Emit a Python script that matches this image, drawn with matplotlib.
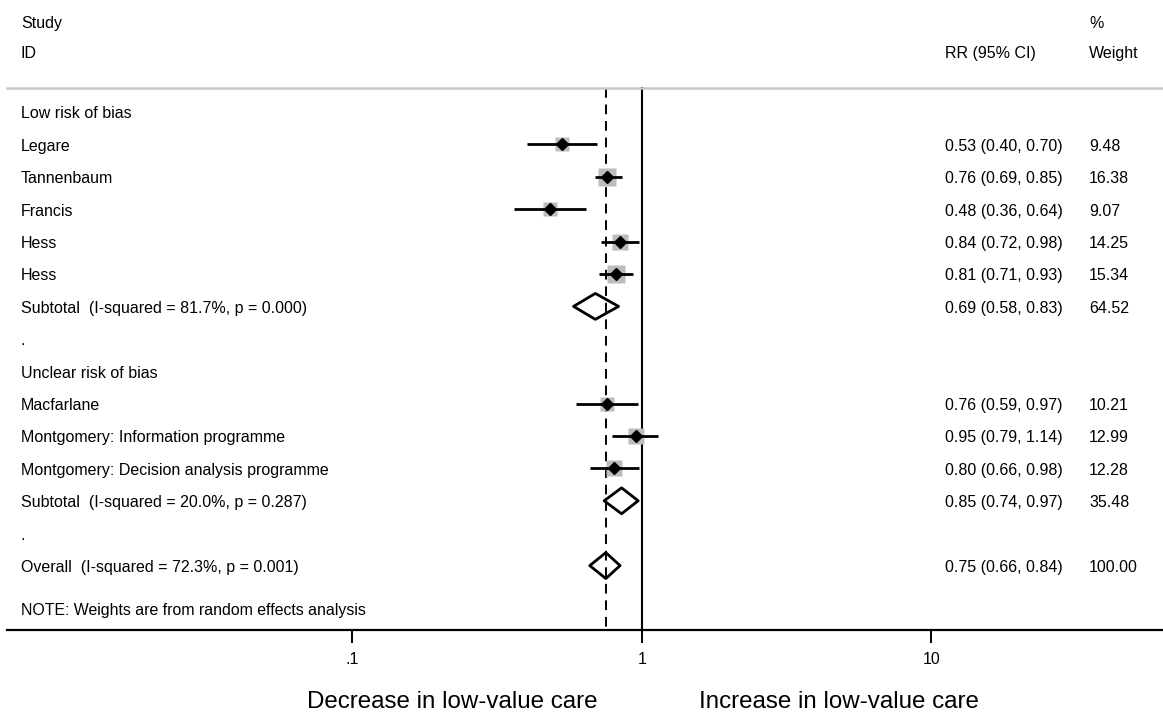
import matplotlib
matplotlib.use("Agg")
import matplotlib.pyplot as plt
from matplotlib.transforms import blended_transform_factory
from matplotlib.patches import Polygon
import numpy as np

plt.rcParams['font.family'] = ['Liberation Sans', 'DejaVu Sans']

# ---- data ----
group1_names = ["Legare", "Tannenbaum", "Francis", "Hess", "Hess"]
group1_rr = [0.53, 0.76, 0.48, 0.84, 0.81]
group1_lo = [0.40, 0.69, 0.36, 0.72, 0.71]
group1_hi = [0.70, 0.85, 0.64, 0.98, 0.93]
group1_w = [9.48, 16.38, 9.07, 14.25, 15.34]

group2_names = ["Macfarlane", "Montgomery: Information programme",
                "Montgomery: Decision analysis programme"]
group2_rr = [0.76, 0.95, 0.80]
group2_lo = [0.59, 0.79, 0.66]
group2_hi = [0.97, 1.14, 0.98]
group2_w = [10.21, 12.99, 12.28]

sub_labels = ["Subtotal  (I-squared = 81.7%, p = 0.000)",
              "Subtotal  (I-squared = 20.0%, p = 0.287)",
              "Overall  (I-squared = 72.3%, p = 0.001)"]
sub_rr = [0.69, 0.85, 0.75]
sub_lo = [0.58, 0.74, 0.66]
sub_hi = [0.83, 0.97, 0.84]
sub_w = [64.52, 35.48, 100.00]

group_titles = ["Low risk of bias", "Unclear risk of bias"]
tick_vals = [0.1, 1, 10]
tick_labels = [".1", "1", "10"]

# ---- figure ----
W, H = 1163, 717
fig = plt.figure(figsize=(W / 100, H / 100), dpi=100)
px0, px1 = 7, 1163
ax = fig.add_axes([px0 / W, (H - 630) / H, (px1 - px0) / W, 630 / H])
x1px, dec = 642.0, 289.5
ax.set_xscale('log')
ax.set_xlim(10 ** ((px0 - x1px) / dec), 10 ** ((px1 - x1px) / dec))
r0, rs = 112.0, 32.4
ax.set_ylim((630 - r0) / rs, (0 - r0) / rs)

for s in ['top', 'left', 'right']:
    ax.spines[s].set_visible(False)
ax.spines['bottom'].set_linewidth(1.6)
ax.set_yticks([])
ax.set_xticks(tick_vals)
ax.set_xticklabels(tick_labels, fontsize=11.5)
ax.minorticks_off()
ax.tick_params(axis='x', length=9, width=1.4, pad=7)
ax.patch.set_alpha(0)

tr = blended_transform_factory(fig.transFigure, ax.transData)
FS = 11.5
def txt(xpx, row, s, **kw):
    ax.text(xpx / W, row + 0.06, s, transform=tr, va='center', fontsize=FS, **kw)

# header
txt(21, -2.78, "Study")
txt(21, -1.88, "ID")
txt(945, -1.88, "RR (95% CI)")
txt(1089, -2.78, "%")
txt(1089, -1.88, "Weight")
ax.plot([px0 / W, 1.0], [-0.74, -0.74], transform=tr, color='#c8c8c8', lw=1.8,
        clip_on=False)

# reference lines
ax.plot([1, 1], [-0.74, 16.0], color='black', lw=1.5, zorder=1)
ax.plot([sub_rr[2], sub_rr[2]], [-0.74, 16.0], color='black', lw=1.4,
        ls=(0, (5, 3.5)), zorder=1)

def study_row(row, name, rr, lo, hi, w):
    txt(21, row, name)
    side_px = 4.4 * np.sqrt(w)
    ax.plot([rr], [row], marker='s', ms=side_px * 0.72, color='#bcbcbc',
            mec='none', zorder=2)
    ax.plot([lo, hi], [row, row], color='black', lw=2.0, zorder=3,
            solid_capstyle='butt')
    ax.plot([rr], [row], marker='D', ms=6, color='black', zorder=4)
    txt(945, row, f"{rr:.2f} ({lo:.2f}, {hi:.2f})")
    txt(1089, row, f"{w:.2f}")

def diamond_row(row, label, rr, lo, hi, w):
    txt(21, row, label)
    h = 0.40
    poly = Polygon([[lo, row], [rr, row - h], [hi, row], [rr, row + h]],
                   closed=True, fill=False, ec='black', lw=2.0, zorder=3,
                   joinstyle='round')
    ax.add_patch(poly)
    txt(945, row, f"{rr:.2f} ({lo:.2f}, {hi:.2f})")
    txt(1089, row, f"{w:.2f}")

row = 0
txt(21, row, group_titles[0])
for i in range(len(group1_names)):
    row += 1
    study_row(row, group1_names[i], group1_rr[i], group1_lo[i], group1_hi[i], group1_w[i])
row += 1
diamond_row(row, sub_labels[0], sub_rr[0], sub_lo[0], sub_hi[0], sub_w[0])
row += 1
txt(21, row, ".")
row += 1
txt(21, row, group_titles[1])
for i in range(len(group2_names)):
    row += 1
    study_row(row, group2_names[i], group2_rr[i], group2_lo[i], group2_hi[i], group2_w[i])
row += 1
diamond_row(row, sub_labels[1], sub_rr[1], sub_lo[1], sub_hi[1], sub_w[1])
row += 1
txt(21, row, ".")
row += 1
diamond_row(row, sub_labels[2], sub_rr[2], sub_lo[2], sub_hi[2], sub_w[2])
ax.text(21 / W, 15.4, "NOTE: Weights are from random effects analysis",
        transform=tr, va='center', fontsize=11.4)

fig.text(452 / W, 1 - 702 / H, "Decrease in low-value care", ha='center',
         va='center', fontsize=17.4)
fig.text(839 / W, 1 - 702 / H, "Increase in low-value care", ha='center',
         va='center', fontsize=17.4)

fig.savefig("out.png", dpi=100, facecolor='white')
